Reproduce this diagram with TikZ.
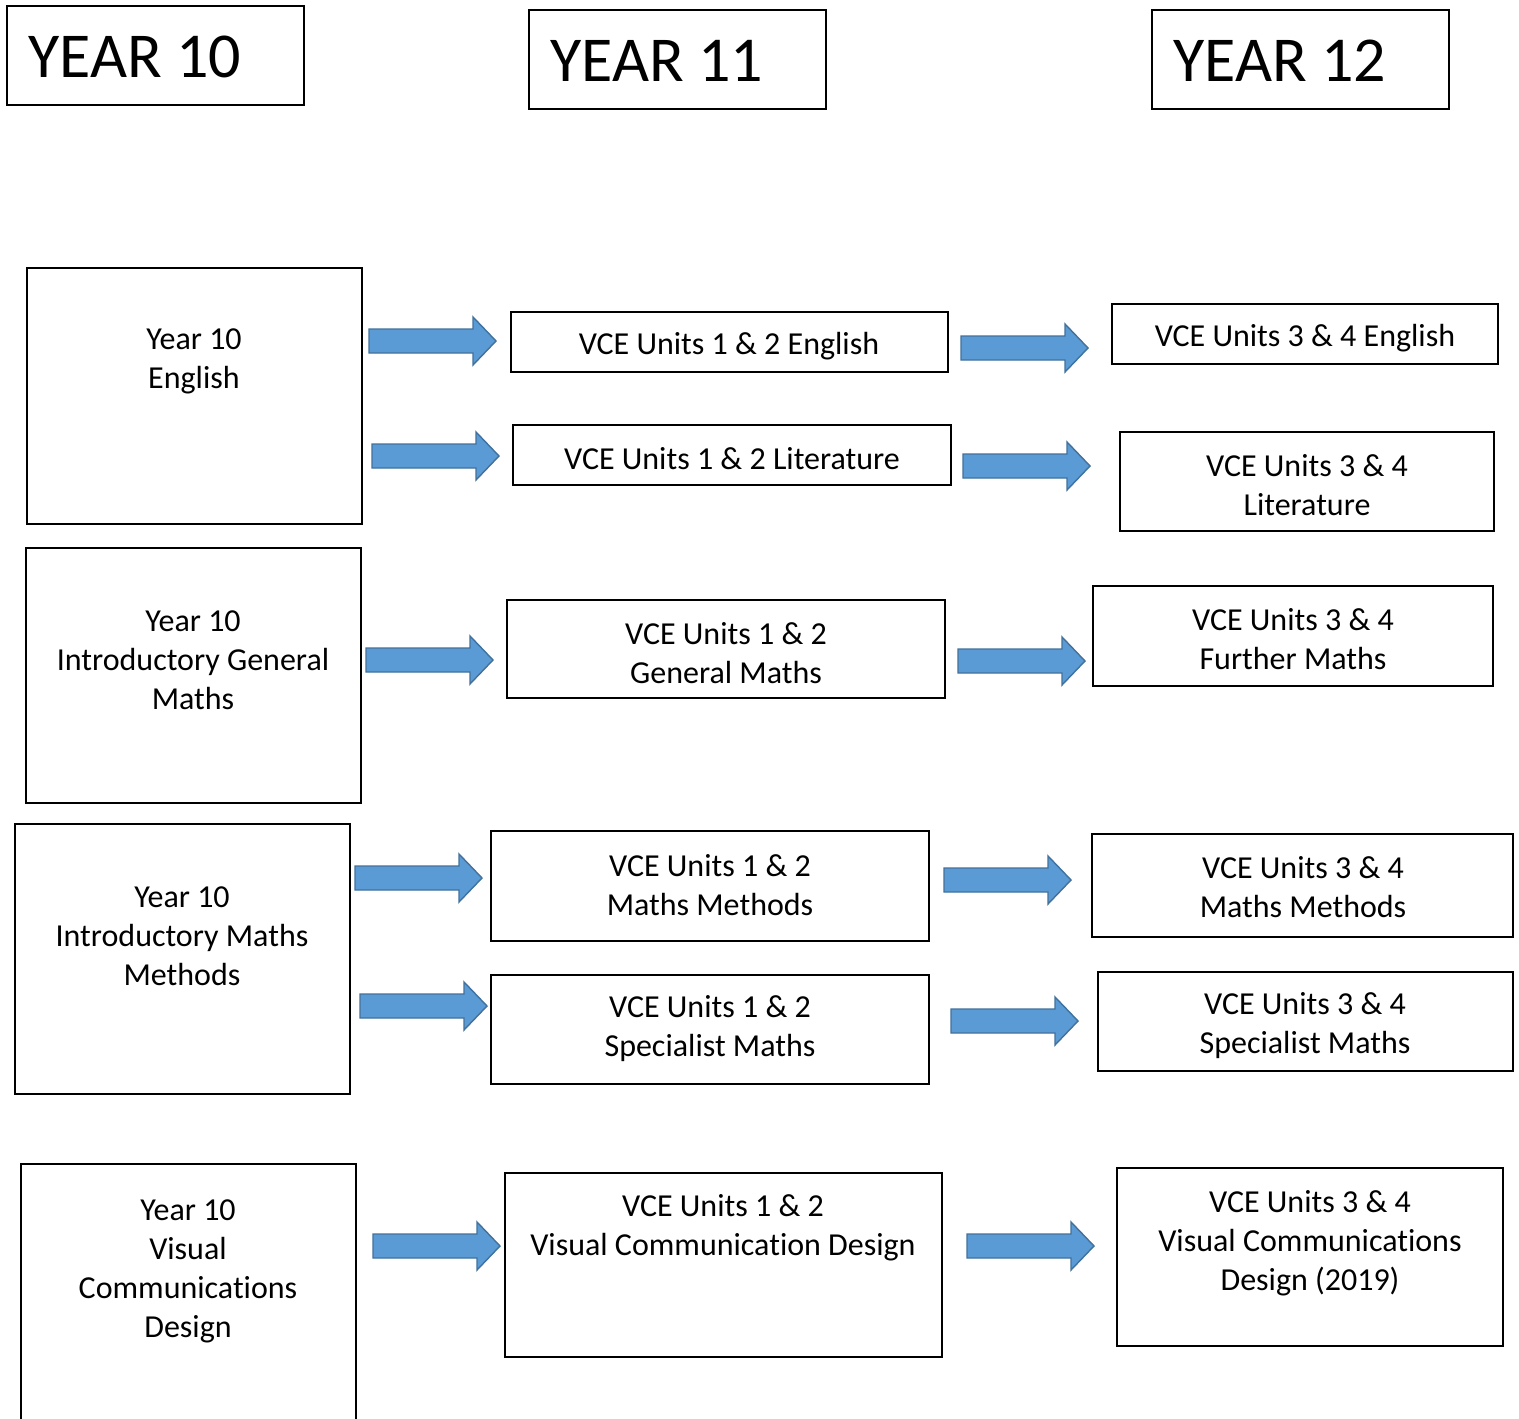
\documentclass[tikz,border=0pt]{standalone}
\usepackage{fontspec}
\setmainfont[Ligatures=NoCommon]{Carlito}
\definecolor{arrfill}{HTML}{5B9BD5}
\definecolor{arrline}{HTML}{41719C}
\tikzset{
  box/.style={draw=black, line width=1pt, rectangle, inner sep=0pt},
  txt/.style={align=center, font=\fontsize{16pt}{19.5pt}\selectfont, inner sep=0pt, yshift=-1.5pt},
  head/.style={anchor=base west, inner sep=0pt, font=\fontsize{32pt}{38pt}\selectfont},
  blockarr/.style={fill=arrfill, draw=arrline, line width=0.7pt, line join=miter}
}
\newcommand\mybox[5]{%
  \node[box, minimum width={(#4-#2)*0.5pt}, minimum height={(#5-#3)*0.5pt}] (#1) at ({(#2+#4)/2},{(#3+#5)/2}) {};}
\newcommand\barw[3]{%
  \draw[blockarr] (#2,#3) coordinate (#1) ++(0,-12) -- ++(104,0) -- ++(0,-12) -- ++(23,24) -- ++(-23,24) -- ++(0,-12) -- ++(-104,0) -- cycle;}
\begin{document}
\begin{tikzpicture}[x=0.5pt, y=-0.5pt]
\useasboundingbox (0,0) rectangle (1519,1418);
\fill[white] (0,0) rectangle (1519,1418);
% headers
\mybox{h10}{7}{6}{304}{105}
\mybox{h11}{529}{10}{826}{109}
\mybox{h12}{1152}{10}{1449}{109}
\node[head] (th10) at (28,78) {YEAR 10};
\node[head] (th11) at (550,82) {YEAR 11};
\node[head] (th12) at (1173,82) {YEAR 12};
% English
\mybox{ye}{27}{268}{362}{524}
\node[txt] (tye) at (194,358) {Year 10\\English};
\mybox{e12}{511}{312}{948}{372}
\node[txt] (te12) at (729,343) {VCE Units 1 \& 2 English};
\mybox{e34}{1112}{304}{1498}{364}
\node[txt] (te34) at (1305,335) {VCE Units 3 \& 4 English};
\mybox{l12}{513}{425}{951}{485}
\node[txt] (tl12) at (732,456) {VCE Units 1 \& 2 Literature};
\mybox{l34}{1120}{432}{1494}{531}
\node[txt] (tl34) at (1307,482) {VCE Units 3 \& 4\\Literature};
% General maths
\mybox{yg}{26}{548}{361}{803}
\node[txt] (tyg) at (193,657) {Year 10\\Introductory General\\Maths};
\mybox{g12}{507}{600}{945}{698}
\node[txt] (tg12) at (726,650) {VCE Units 1 \& 2\\General Maths};
\mybox{f34}{1093}{586}{1493}{686}
\node[txt] (tf34) at (1293,636) {VCE Units 3 \& 4\\Further Maths};
% Methods
\mybox{ym}{15}{824}{350}{1094}
\node[txt] (tym) at (182,933) {Year 10\\Introductory Maths\\Methods};
\mybox{m12}{491}{831}{929}{941}
\node[txt] (tm12) at (710,882) {VCE Units 1 \& 2\\Maths Methods};
\mybox{m34}{1092}{834}{1513}{937}
\node[txt] (tm34) at (1303,884) {VCE Units 3 \& 4\\Maths Methods};
\mybox{s12}{491}{975}{929}{1084}
\node[txt] (ts12) at (710,1026) {VCE Units 1 \& 2\\Specialist Maths};
\mybox{s34}{1098}{972}{1513}{1071}
\node[txt] (ts34) at (1305,1023) {VCE Units 3 \& 4\\Specialist Maths};
% VCD
\mybox{yv}{21}{1164}{356}{1440}
\node[txt] (tyv) at (188,1268) {Year 10\\Visual\\Communications\\Design};
\mybox{v12}{505}{1173}{942}{1357}
\node[txt] (tv12) at (723,1225) {VCE Units 1 \& 2\\Visual Communication Design};
\mybox{v34}{1117}{1168}{1503}{1346}
\node[txt] (tv34) at (1310,1240) {VCE Units 3 \& 4\\Visual Communications\\Design (2019)};
% arrows
\barw{a1}{369}{341}
\barw{a2}{372}{456}
\barw{a3}{961}{348}
\barw{a4}{963}{466}
\barw{a5}{366}{660}
\barw{a6}{958}{661}
\barw{a7}{355}{878}
\barw{a8}{944}{880}
\barw{a9}{360}{1006}
\barw{a10}{951}{1021}
\barw{a11}{373}{1246}
\barw{a12}{967}{1246}
\end{tikzpicture}
\end{document}
